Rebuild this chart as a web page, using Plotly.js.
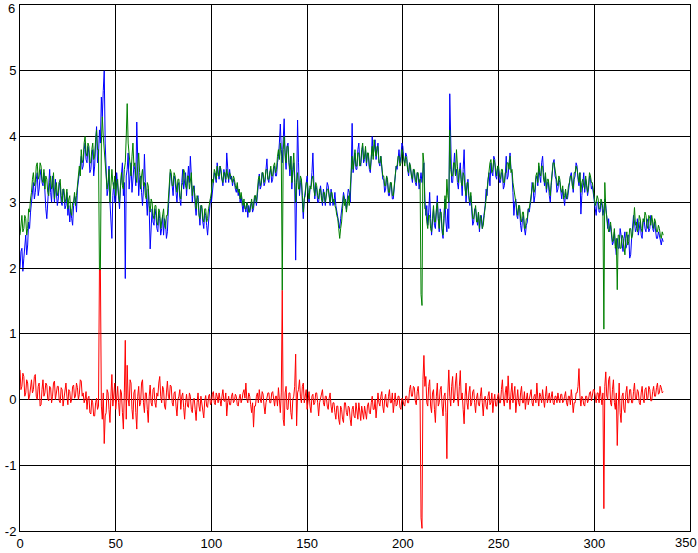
<!DOCTYPE html>
<html>
<head>
<meta charset="utf-8">
<script src="https://cdn.plot.ly/plotly-3.0.1.min.js"></script>
<style>html,body{margin:0;padding:0;background:#fff;}#chart{width:698px;height:553px;}</style>
</head>
<body>
<div id="chart"></div>
<script>
// samples every 0.5 units, x = 0 .. 336
const sampleStep = 0.5;
const blueSeries = [
2.0,2.25,2.3,1.95,2.15,2.4,2.5,2.2,2.35,2.7,2.6,2.85,3.0,3.2,3.3,3.05,3.15,3.35,3.45,3.1,
3.2,3.4,3.5,3.3,3.25,3.45,3.1,2.9,2.75,3.05,3.3,3.5,3.15,3.0,3.4,3.2,3.0,3.35,3.2,2.95,
3.05,3.3,3.25,3.0,2.95,3.2,3.1,2.9,2.95,3.15,2.8,2.95,2.7,2.9,2.75,2.65,2.95,3.1,3.05,2.85,
3.2,3.35,3.45,3.6,3.7,3.5,3.55,3.8,3.9,3.65,3.6,3.85,3.75,3.45,3.5,3.7,3.8,3.4,3.55,3.9,
4.15,3.6,3.7,4.1,3.9,4.6,4.3,4.7,5.0,3.9,3.5,3.1,3.2,3.55,3.0,2.7,2.45,3.1,3.3,3.0,
3.0,3.45,3.3,3.05,2.9,3.25,3.4,3.6,3.1,3.3,1.84,3.4,3.5,3.75,3.2,3.45,3.6,3.15,3.3,3.55,
3.5,3.25,4.22,3.6,3.1,3.35,3.4,3.15,2.95,3.2,3.73,3.3,3.0,2.8,3.2,2.9,2.29,2.75,2.9,2.7,
2.65,2.9,2.8,2.6,2.55,2.85,2.75,2.5,2.6,2.8,2.5,2.75,2.7,2.45,2.55,2.9,3.2,3.45,3.4,3.2,
3.1,3.4,3.35,3.15,3.0,3.25,3.3,3.05,2.95,3.3,3.5,3.2,3.3,3.45,3.1,3.35,3.55,3.3,3.7,3.4,
3.0,3.2,3.25,2.95,2.8,3.05,3.1,2.85,2.65,2.95,2.9,2.7,2.6,2.85,2.8,2.65,2.5,2.7,2.85,3.05,
3.0,3.2,3.25,3.45,3.4,3.3,3.6,3.4,3.35,3.55,3.45,3.3,3.25,3.5,3.4,3.3,3.75,3.45,3.3,3.5,
3.35,3.4,3.25,3.35,3.3,3.2,3.15,3.25,3.1,3.2,3.0,3.1,2.9,2.85,3.0,2.9,2.85,3.0,2.77,2.95,
2.85,2.95,3.0,2.85,2.9,3.05,3.1,2.95,3.15,3.3,3.43,3.2,3.25,3.45,3.4,3.25,3.3,3.5,3.66,3.35,
3.3,3.45,3.5,3.3,3.35,3.5,3.55,3.4,3.4,3.6,3.7,3.9,4.19,3.8,3.6,3.95,4.27,3.7,3.5,3.85,
3.9,3.6,3.4,3.7,3.2,3.45,3.6,3.3,2.12,3.2,4.25,3.6,3.1,3.3,3.35,3.0,2.75,3.05,3.2,3.35,
3.4,3.15,3.0,3.2,3.25,3.45,3.75,3.3,3.05,3.25,3.2,3.0,3.0,3.15,3.25,3.1,2.95,3.2,3.1,2.95,
3.15,3.3,3.25,3.05,2.95,3.2,3.1,2.95,3.0,3.15,2.95,2.85,2.8,2.7,2.6,2.75,2.85,3.0,3.15,3.05,
3.0,2.9,3.05,3.2,3.15,3.0,3.4,4.2,3.45,3.65,3.75,3.5,3.5,3.8,3.9,3.6,3.55,3.75,3.85,3.6,
3.65,3.8,3.55,3.75,3.7,3.5,3.45,3.65,4.0,3.7,3.85,3.95,3.65,3.8,3.9,3.6,3.55,3.7,3.5,3.35,
3.35,3.15,3.2,3.4,3.3,3.1,3.1,3.3,3.25,3.05,3.05,3.25,3.35,3.55,3.5,3.7,3.8,3.6,3.7,3.9,
3.85,3.65,3.6,3.75,3.7,3.5,3.4,3.6,3.5,3.35,3.3,3.5,3.45,3.3,3.25,3.45,3.4,3.2,3.35,3.45,
3.3,3.5,3.6,3.05,2.8,2.95,2.65,2.85,3.15,2.75,2.5,2.7,2.9,2.65,2.6,2.85,3.1,2.75,2.55,2.9,
2.8,2.55,2.45,2.8,3.05,2.7,2.55,2.9,2.6,4.65,3.6,3.3,3.3,3.55,3.75,3.4,3.5,3.3,3.2,3.45,
3.6,3.35,3.1,3.5,3.8,3.3,3.0,3.2,3.35,3.05,2.95,3.1,2.85,2.65,2.7,2.9,2.9,2.7,2.65,2.85,
2.55,2.75,2.8,2.6,2.7,2.85,2.95,3.2,3.1,3.35,3.45,3.25,3.6,3.45,3.4,3.7,3.65,3.4,3.35,3.55,
3.5,3.3,3.3,3.45,3.45,3.2,3.25,3.4,3.7,3.35,3.4,3.6,3.75,3.5,3.45,3.15,2.8,3.0,3.05,2.8,
2.75,2.95,2.9,2.65,2.55,2.75,2.8,2.6,2.5,2.65,2.7,2.9,2.85,2.95,3.05,3.3,3.25,3.0,3.1,3.35,
3.4,3.25,3.55,3.4,3.3,3.6,3.7,3.45,3.25,3.4,3.15,3.3,3.3,3.1,3.0,3.25,3.45,3.6,3.65,3.4,
3.35,3.15,3.2,3.35,3.3,3.1,3.05,3.2,3.0,2.95,3.15,3.05,3.05,3.2,3.25,3.4,3.45,3.3,3.15,3.35,
3.4,3.6,3.55,3.35,3.25,3.45,2.82,3.1,3.3,3.45,3.15,3.35,3.25,3.1,3.2,3.4,3.35,3.2,3.25,3.1,
3.05,2.9,2.8,3.0,3.0,2.85,2.85,3.0,2.95,2.8,2.9,3.05,2.95,2.7,2.6,2.75,2.55,2.65,2.5,2.35,
2.4,2.55,2.35,2.2,2.45,2.3,2.3,2.6,2.5,2.35,2.25,2.45,2.55,2.3,2.35,2.5,2.5,2.15,2.2,2.45,
2.65,2.8,2.7,2.55,2.6,2.75,2.5,2.65,2.7,2.5,2.45,2.7,2.75,2.6,2.55,2.75,2.7,2.55,2.6,2.8,
2.75,2.6,2.55,2.7,2.6,2.45,2.45,2.55,2.5,2.4,2.35,2.45,2.4
];
const greenSeries = [
2.5,2.7,2.8,2.55,2.6,2.8,2.75,2.5,2.6,2.9,2.85,3.05,3.15,3.35,3.45,3.25,3.3,3.55,3.6,3.35,
3.4,3.6,3.55,3.35,3.3,3.5,3.2,3.4,3.35,3.15,3.1,3.3,3.4,3.2,3.25,3.45,3.05,3.2,3.3,3.1,
3.15,3.3,3.35,3.1,3.0,3.2,3.2,3.0,3.05,3.2,2.9,3.05,3.1,2.85,2.8,3.0,3.0,3.15,2.95,3.1,
3.25,3.45,3.55,3.4,3.8,3.6,3.65,3.9,4.0,3.75,3.7,3.9,3.85,3.6,3.6,3.8,3.9,3.65,3.7,3.95,
4.1,3.8,3.8,1.97,1.97,3.9,4.3,4.0,3.8,3.6,3.45,3.2,3.3,3.5,3.0,3.25,3.5,3.3,3.2,3.4,
3.1,3.3,3.35,3.1,3.0,3.25,3.45,3.25,3.2,3.5,3.6,4.0,4.5,3.9,3.7,3.5,3.4,3.7,3.9,3.55,
3.6,3.4,3.3,3.55,3.75,3.45,3.2,3.4,3.5,3.25,3.3,3.1,3.05,3.3,3.25,2.95,2.85,3.05,3.0,2.8,
2.75,2.95,2.95,2.7,2.65,2.9,2.85,2.6,2.7,2.85,2.9,2.65,2.6,2.8,2.8,3.05,3.3,3.5,3.45,3.25,
3.25,3.45,3.4,3.2,3.15,3.35,3.35,3.1,3.05,3.25,3.3,3.5,3.45,3.25,3.2,3.4,3.4,3.2,3.3,3.45,
3.1,3.25,3.2,3.0,2.9,3.1,3.05,2.8,2.75,2.95,2.95,2.75,2.7,2.9,2.9,2.7,2.75,2.9,3.0,3.1,
3.15,3.35,3.3,3.5,3.45,3.35,3.55,3.4,3.4,3.55,3.5,3.35,3.3,3.45,3.45,3.35,3.5,3.4,3.35,3.45,
3.4,3.35,3.3,3.4,3.35,3.25,3.2,3.3,3.15,3.2,3.05,3.15,3.0,2.95,3.05,2.9,2.9,3.0,2.95,2.85,
2.85,3.0,3.05,2.9,2.95,3.1,3.1,3.0,3.2,3.35,3.4,3.25,3.3,3.45,3.45,3.3,3.35,3.5,3.5,3.35,
3.35,3.5,3.55,3.4,3.4,3.55,3.6,3.45,3.5,3.7,3.8,3.65,3.9,3.7,1.66,3.8,4.0,3.75,3.6,3.85,
3.85,3.6,3.5,3.7,3.3,3.5,3.75,3.4,3.0,3.3,3.45,3.2,3.2,3.4,3.35,3.1,2.85,3.05,3.1,3.3,
3.3,3.15,3.05,3.25,3.2,3.35,3.4,3.2,3.1,3.3,3.25,3.1,3.05,3.2,3.2,3.05,3.0,3.15,3.15,3.0,
3.1,3.2,3.2,3.05,3.0,3.15,3.15,3.0,3.05,2.95,2.9,2.8,2.75,2.6,2.45,2.6,2.7,2.9,3.1,2.95,
3.05,2.85,2.95,3.1,2.95,3.2,3.5,3.7,3.5,3.65,3.8,3.55,3.55,3.75,3.75,3.55,3.6,3.8,3.9,3.65,
3.7,3.85,3.6,3.75,3.75,3.55,3.5,3.7,3.85,3.65,3.95,3.8,3.7,3.85,3.85,3.6,3.6,3.7,3.55,3.4,
3.4,3.25,3.25,3.4,3.35,3.15,3.15,3.3,3.3,3.1,3.1,3.3,3.4,3.55,3.55,3.7,3.7,3.55,3.6,3.8,
3.75,3.6,3.55,3.7,3.65,3.5,3.45,3.6,3.55,3.4,3.35,3.5,3.5,3.35,3.3,3.45,3.45,3.3,3.35,1.6,
1.43,3.75,3.6,2.9,2.9,2.7,2.6,2.8,2.8,2.6,2.55,2.75,2.95,2.7,2.7,2.9,3.0,2.75,2.6,2.85,
2.85,2.6,2.5,2.75,3.1,2.9,3.35,3.1,3.0,4.1,3.5,3.4,3.4,3.6,3.6,3.4,3.8,3.55,3.3,3.5,
3.5,3.3,3.25,3.45,3.4,3.2,3.1,3.3,3.3,3.1,3.0,3.15,2.9,2.75,2.75,2.9,2.95,2.7,2.7,2.85,
2.6,2.8,2.75,2.6,2.65,2.8,2.9,3.05,3.2,3.35,3.4,3.6,3.65,3.45,3.5,3.65,3.6,3.45,3.4,3.55,
3.55,3.4,3.35,3.5,3.5,3.3,3.3,3.45,3.45,3.6,3.6,3.5,3.7,3.45,3.5,3.3,3.2,3.05,3.0,2.85,
2.8,2.95,2.95,2.75,2.7,2.85,2.85,2.6,2.6,2.75,2.75,2.9,2.9,3.0,3.1,3.25,3.3,3.15,3.2,3.4,
3.45,3.3,3.6,3.45,3.4,3.55,3.55,3.35,3.3,3.45,3.2,3.35,3.35,3.2,3.1,3.3,3.5,3.6,3.6,3.45,
3.4,3.3,3.25,3.4,3.35,3.2,3.15,3.25,3.05,3.1,3.2,3.05,3.1,3.25,3.3,3.4,3.4,3.25,3.2,3.45,
3.45,3.55,3.5,3.4,3.3,3.45,3.15,3.3,3.35,3.25,3.2,3.4,3.3,3.15,3.25,3.45,3.4,3.3,3.3,3.2,
3.1,2.95,3.0,3.1,3.05,2.9,2.9,3.05,3.0,2.9,1.07,3.3,2.9,2.75,2.7,2.55,2.6,2.7,2.55,2.4,
2.45,2.6,2.3,2.45,1.67,2.5,2.5,2.3,2.3,2.5,2.45,2.25,2.2,2.45,2.55,2.35,2.4,2.6,2.6,2.45,
2.5,2.7,2.92,2.65,2.7,2.55,2.6,2.8,2.75,2.6,2.55,2.75,2.7,2.85,2.8,2.65,2.6,2.8,2.75,2.65,
2.8,2.7,2.6,2.75,2.7,2.55,2.55,2.65,2.6,2.5,2.45,2.55,2.5
];
const redSeries = [
0.45,0.15,0.2,0.4,0.35,0.05,0.1,0.3,0.25,0.0,0.05,0.2,0.3,0.1,0.15,0.35,0.38,0.05,0.0,0.2,
0.25,-0.1,-0.08,0.15,0.3,0.05,0.1,0.25,0.22,0.0,-0.02,0.2,0.18,-0.05,0.05,0.25,0.28,0.0,0.08,0.2,
0.2,-0.02,-0.05,0.18,0.15,-0.1,0.02,0.2,0.25,0.05,-0.08,0.15,0.12,-0.05,0.0,0.2,0.22,0.02,0.05,0.25,
0.18,0.0,0.08,0.3,0.28,0.05,0.1,-0.05,0.0,0.12,-0.15,0.02,0.05,-0.2,-0.22,0.0,-0.05,-0.25,-0.25,-0.05,
0.02,-0.15,-0.1,1.97,1.97,-0.1,-0.3,0.1,-0.67,-0.25,-0.2,0.15,0.1,-0.15,-0.35,0.05,0.38,-0.1,0.05,0.25,
-0.15,0.1,0.2,-0.05,-0.25,0.15,0.1,-0.2,-0.45,0.1,0.9,-0.3,0.52,0.0,-0.1,0.3,0.25,-0.15,-0.3,0.1,
0.15,-0.2,-0.45,0.05,0.2,-0.1,-0.05,0.25,0.3,-0.05,-0.2,0.1,0.1,-0.15,-0.35,0.05,0.22,-0.05,-0.1,0.15,
0.18,-0.05,-0.12,0.1,0.05,0.25,0.35,0.05,-0.05,0.2,0.15,-0.1,-0.15,0.1,0.28,0.05,0.0,0.22,0.2,-0.05,
-0.1,0.1,0.12,-0.1,-0.25,0.0,0.05,0.15,-0.15,0.05,0.1,-0.12,-0.3,-0.05,0.08,-0.1,-0.12,0.1,0.05,-0.15,
-0.2,0.0,0.02,-0.15,-0.32,-0.05,0.1,-0.1,-0.18,0.05,-0.05,-0.2,-0.28,-0.02,0.06,-0.1,-0.12,0.05,0.08,-0.08,
-0.05,0.08,0.12,-0.05,-0.08,0.1,0.05,-0.05,0.1,0.0,-0.1,0.05,0.15,-0.02,-0.03,0.1,-0.25,-0.05,0.05,-0.08,
-0.08,0.05,0.1,-0.05,-0.02,0.08,0.05,-0.08,-0.1,0.02,0.08,-0.05,0.0,0.1,0.15,0.02,0.25,0.0,-0.05,0.1,
0.05,-0.08,-0.2,-0.05,-0.42,-0.1,-0.1,0.05,0.1,-0.05,0.15,0.0,-0.05,0.12,0.08,-0.1,-0.22,-0.05,0.02,0.1,
0.1,-0.05,-0.05,0.1,0.12,-0.02,-0.1,0.05,0.05,-0.1,0.18,0.0,-0.2,0.1,1.66,-0.3,-0.4,0.1,0.2,-0.15,
-0.15,0.1,0.1,-0.2,-0.3,0.0,0.05,0.2,0.69,-0.4,0.1,0.15,0.3,0.05,-0.05,0.2,0.25,-0.05,0.05,0.15,
-0.15,0.05,0.12,-0.1,-0.2,0.05,0.08,-0.08,-0.05,0.1,0.1,-0.05,-0.25,-0.05,0.02,0.12,0.15,-0.05,-0.1,0.05,
0.05,-0.1,-0.15,0.02,0.1,-0.1,-0.2,-0.05,-0.05,-0.2,-0.3,-0.1,-0.1,-0.3,-0.38,-0.1,-0.15,-0.3,-0.35,-0.05,
-0.05,-0.2,-0.25,-0.1,-0.12,-0.3,-0.4,-0.15,-0.1,-0.25,-0.28,-0.05,-0.15,-0.3,-0.05,-0.2,-0.32,-0.1,-0.18,-0.3,
-0.1,-0.25,-0.3,-0.1,-0.05,-0.2,-0.22,-0.05,0.05,-0.15,-0.15,0.0,-0.28,-0.1,0.1,-0.05,-0.1,0.05,0.12,-0.1,
-0.2,0.0,0.08,-0.1,-0.12,0.05,0.15,-0.05,-0.05,0.1,-0.2,-0.05,0.1,-0.1,-0.08,0.05,0.05,-0.12,-0.15,0.02,
0.0,-0.08,-0.1,0.05,0.05,-0.05,-0.05,0.15,0.22,0.05,0.05,0.2,0.18,-0.02,-0.08,0.12,0.2,0.0,0.0,-1.8,
-1.96,0.3,0.67,0.2,0.35,-0.05,-0.1,0.2,0.3,-0.1,-0.2,0.1,0.15,-0.15,-0.35,0.05,0.25,-0.1,-0.05,0.15,
0.2,-0.1,-0.25,0.05,0.1,-0.2,-0.9,0.1,0.45,0.05,-0.1,0.2,0.35,-0.05,0.0,0.25,0.4,0.05,-0.1,0.2,
0.44,0.0,0.1,-0.15,-0.37,0.05,0.25,-0.05,-0.15,0.1,0.2,-0.1,-0.05,0.12,0.15,-0.05,-0.2,0.02,0.1,-0.08,
-0.1,0.05,0.18,-0.05,-0.25,0.0,0.05,-0.1,-0.15,0.05,0.12,-0.08,-0.05,0.1,-0.2,-0.02,0.08,-0.1,-0.1,0.05,
0.1,-0.05,-0.05,0.15,0.3,0.0,-0.1,0.1,0.2,-0.05,0.36,0.05,-0.15,0.1,0.25,-0.05,0.05,0.2,-0.2,0.0,
0.15,-0.05,-0.1,0.1,0.2,-0.05,-0.05,0.12,-0.15,0.0,0.1,-0.08,0.0,0.1,0.15,-0.05,-0.1,0.05,0.08,-0.05,
0.25,0.02,-0.1,0.1,0.05,-0.05,0.15,0.0,-0.12,0.05,0.2,-0.05,0.05,0.1,-0.05,0.08,0.12,-0.05,-0.08,0.05,
0.05,-0.05,0.1,0.0,-0.05,0.08,0.08,-0.05,-0.02,0.05,0.12,-0.05,-0.1,0.05,0.05,-0.08,0.15,0.0,-0.2,-0.05,
-0.05,0.1,0.1,0.2,0.47,0.05,-0.1,0.05,0.02,-0.08,-0.1,0.05,0.05,-0.05,0.0,0.1,0.12,-0.02,0.05,0.15,
0.15,0.0,-0.05,0.1,0.1,-0.05,0.2,0.05,-0.08,0.1,-1.66,0.2,0.42,0.05,0.0,0.3,0.35,-0.05,-0.1,0.15,
0.3,-0.05,-0.15,0.1,-0.7,-0.1,0.25,-0.2,-0.35,0.05,0.1,-0.15,-0.2,0.1,0.2,-0.05,-0.05,0.15,0.15,-0.05,
-0.05,0.12,0.25,0.0,0.0,0.15,0.12,-0.05,-0.08,0.1,0.2,0.02,-0.05,0.15,0.18,0.0,0.02,0.2,0.15,-0.02,
-0.02,0.12,0.2,0.05,0.05,0.18,0.25,0.08,0.1,0.22,0.18,0.1,0.12
];
const sampleX = blueSeries.map((_, i) => i * sampleStep);

const xTicks = [0, 50, 100, 150, 200, 250, 300, 350];
const yTicks = [-2, -1, 0, 1, 2, 3, 4, 5, 6];
const xEdgeLabel = '350';   // drawn inside the window
const yEdgeLabel = '6';

const mk = (y, color) => ({
  x: sampleX, y: y, type: 'scatter', mode: 'lines',
  line: {color: color, width: 1}, hoverinfo: 'skip'
});

const tickFont = {family: 'Liberation Sans, Arial, sans-serif', size: 13, color: '#000'};
const axisBase = {
  showgrid: true, gridcolor: '#000', gridwidth: 1,
  showline: true, linecolor: '#000', linewidth: 1, mirror: 'ticks',
  ticks: 'inside', ticklen: 5, tickcolor: '#000',
  zeroline: false, tickfont: tickFont
};

Plotly.newPlot('chart', [mk(blueSeries, '#0000ff'), mk(greenSeries, '#008000'), mk(redSeries, '#ff0000')], {
  width: 698, height: 553,
  margin: {l: 20, r: 8, t: 5, b: 22},
  paper_bgcolor: '#fff', plot_bgcolor: '#fff',
  showlegend: false,
  xaxis: Object.assign({}, axisBase, {range: [0, 350], tickvals: xTicks,
    ticktext: xTicks.map(v => String(v) === xEdgeLabel ? '' : String(v))}),
  yaxis: Object.assign({}, axisBase, {range: [-2, 6], tickvals: yTicks,
    ticktext: yTicks.map(v => String(v) === yEdgeLabel ? '' : String(v))}),
  annotations: [
    {text: xEdgeLabel, xref: 'paper', yref: 'paper', x: 1, y: 0, xanchor: 'right', yanchor: 'top',
     xshift: 8, yshift: -3, showarrow: false, font: tickFont, borderpad: 0},
    {text: yEdgeLabel, xref: 'paper', yref: 'paper', x: 0, y: 1, xanchor: 'right', yanchor: 'top',
     xshift: -4, yshift: 5, showarrow: false, font: tickFont, borderpad: 0}
  ]
}, {staticPlot: true});
</script>
</body>
</html>
